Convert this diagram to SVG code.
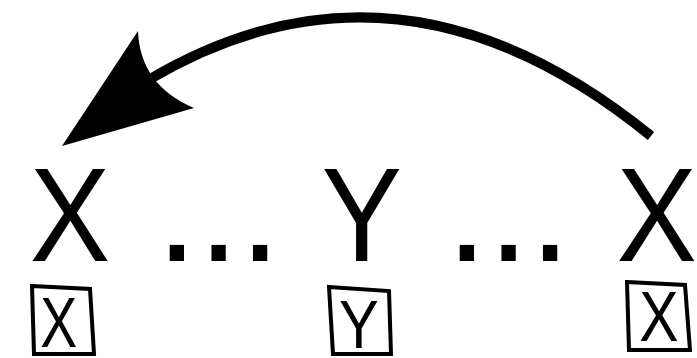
<svg xmlns="http://www.w3.org/2000/svg" width="697" height="358" viewBox="0 0 697 358">
<style>
.big{font-family:"Liberation Sans",Arial,sans-serif;font-size:134px;fill:#000;text-anchor:middle}
.dots{font-family:"Liberation Sans",Arial,sans-serif;font-size:150px;fill:#000;text-anchor:middle}
.small{font-family:"Liberation Sans",Arial,sans-serif;font-size:71px;fill:#000;text-anchor:middle}
.box{fill:#fff;stroke:#000;stroke-width:4;stroke-linejoin:miter}
.conn{fill:none;stroke:#000;stroke-width:10}
.head{fill:#000;stroke:none}
</style>
<rect width="697" height="358" fill="#fff"/>
<g id="connectors">
<path class="conn" d="M651,136 Q400,-68 150,79"/>
<path class="head" d="M62,146 L138,31 Q140,85 194,108 Z"/>
</g>
<g id="node-x1">
<text class="big" transform="translate(70,261) scale(0.9,1)">X</text>
<polygon class="box" points="32,286 90,289 94,354 34,354"/>
<text class="small" transform="translate(58.7,346.7) scale(0.78,1)">X</text>
</g>
<g id="ellipsis-1">
<text class="dots" x="218.5" y="261">...</text>
</g>
<g id="node-y">
<text class="big" transform="translate(361.7,261) scale(0.9,1)">Y</text>
<polygon class="box" points="329,287 389,291 391,354 333,354"/>
<text class="small" transform="translate(358.8,348.3) scale(0.84,0.97)">Y</text>
</g>
<g id="ellipsis-2">
<text class="dots" x="508.5" y="261">...</text>
</g>
<g id="node-x2">
<text class="big" transform="translate(656.7,261) scale(0.9,1)">X</text>
<polygon class="box" points="627,282 685,285 690,350 629,350"/>
<text class="small" transform="translate(658.8,340.7) scale(0.83,1)">X</text>
</g>
</svg>
